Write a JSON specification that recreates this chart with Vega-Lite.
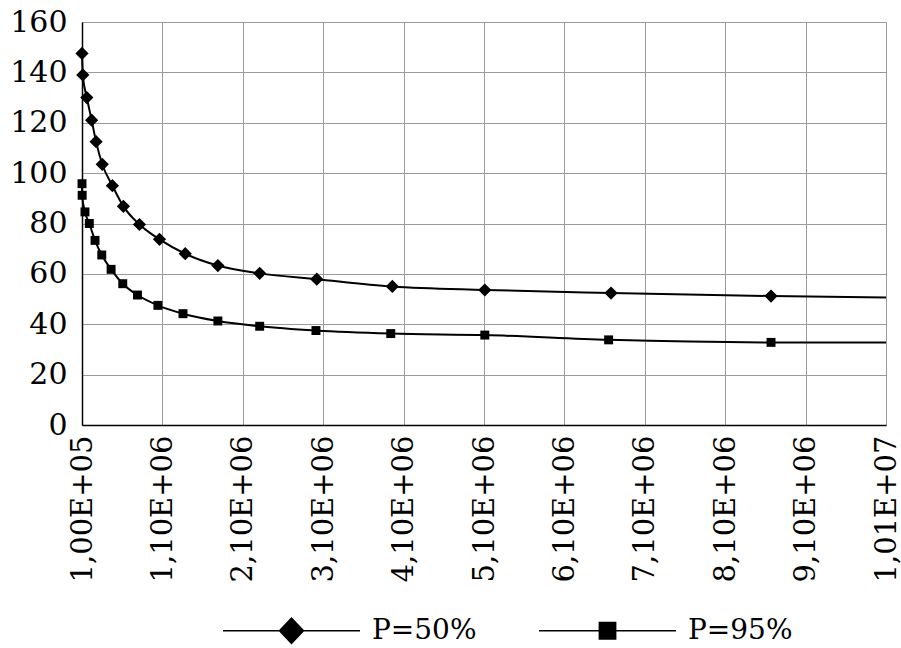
{
  "$schema": "https://vega.github.io/schema/vega-lite/v6.json",
  "width": 804,
  "height": 403,
  "autosize": {"type": "none"},
  "padding": {"left": 82, "top": 22, "right": 15, "bottom": 223},
  "background": "white",
  "config": {"view": {"stroke": null}, "font": "DejaVu Serif"},
  "data": {
    "values": [
      {"s": "P=50%", "x": 100000, "y": 147.5},
      {"s": "P=50%", "x": 110000, "y": 139},
      {"s": "P=50%", "x": 160000, "y": 130},
      {"s": "P=50%", "x": 220000, "y": 121},
      {"s": "P=50%", "x": 275000, "y": 112.5},
      {"s": "P=50%", "x": 352000, "y": 103.5},
      {"s": "P=50%", "x": 478000, "y": 95},
      {"s": "P=50%", "x": 615000, "y": 86.8},
      {"s": "P=50%", "x": 815000, "y": 79.6},
      {"s": "P=50%", "x": 1064000, "y": 73.7},
      {"s": "P=50%", "x": 1384000, "y": 68},
      {"s": "P=50%", "x": 1790000, "y": 63.3},
      {"s": "P=50%", "x": 2310000, "y": 60.2},
      {"s": "P=50%", "x": 3020000, "y": 57.9},
      {"s": "P=50%", "x": 3960000, "y": 55},
      {"s": "P=50%", "x": 5110000, "y": 53.6},
      {"s": "P=50%", "x": 6680000, "y": 52.4},
      {"s": "P=50%", "x": 8670000, "y": 51.2},
      {"s": "P=50%", "x": 10100000, "y": 50.6},
      {"s": "P=95%", "x": 100000, "y": 95.8},
      {"s": "P=95%", "x": 102000, "y": 91.2},
      {"s": "P=95%", "x": 137000, "y": 84.6},
      {"s": "P=95%", "x": 191000, "y": 80},
      {"s": "P=95%", "x": 262000, "y": 73.3},
      {"s": "P=95%", "x": 346000, "y": 67.5},
      {"s": "P=95%", "x": 462000, "y": 61.8},
      {"s": "P=95%", "x": 607000, "y": 56.1},
      {"s": "P=95%", "x": 790000, "y": 51.6},
      {"s": "P=95%", "x": 1044000, "y": 47.5},
      {"s": "P=95%", "x": 1356000, "y": 44.2},
      {"s": "P=95%", "x": 1790000, "y": 41.3},
      {"s": "P=95%", "x": 2310000, "y": 39.2},
      {"s": "P=95%", "x": 3010000, "y": 37.5},
      {"s": "P=95%", "x": 3940000, "y": 36.3},
      {"s": "P=95%", "x": 5110000, "y": 35.7},
      {"s": "P=95%", "x": 6650000, "y": 33.8},
      {"s": "P=95%", "x": 8670000, "y": 32.8},
      {"s": "P=95%", "x": 10100000, "y": 32.8}
    ]
  },
  "encoding": {
    "x": {
      "field": "x",
      "type": "quantitative",
      "scale": {"domain": [100000, 10100000], "nice": false, "zero": false},
      "axis": {
        "values": [100000, 1100000, 2100000, 3100000, 4100000, 5100000, 6100000, 7100000, 8100000, 9100000, 10100000],
        "labelExpr": "replace(replace(format(datum.value, '.2e'), '.', ','), 'e+', 'E+0')",
        "labelAngle": -90,
        "labelFont": "DejaVu Serif",
        "labelFontSize": 29,
        "labelColor": "black",
        "labelPadding": 10,
        "labelOverlap": false,
        "labelFlush": false,
        "labelBound": false,
        "ticks": false,
        "domainColor": "black",
        "domainWidth": 1.5,
        "gridColor": "#9a9a9a",
        "gridWidth": 1,
        "title": null
      }
    },
    "y": {
      "field": "y",
      "type": "quantitative",
      "scale": {"domain": [0, 160], "nice": false},
      "axis": {
        "values": [0, 20, 40, 60, 80, 100, 120, 140, 160],
        "labelFont": "DejaVu Serif",
        "labelFontSize": 30,
        "labelColor": "black",
        "labelPadding": 15,
        "labelOverlap": false,
        "labelFlush": false,
        "ticks": false,
        "domainColor": "black",
        "domainWidth": 1.5,
        "gridColor": "#9a9a9a",
        "gridWidth": 1,
        "title": null
      }
    }
  },
  "layer": [
    {
      "mark": {"type": "line", "interpolate": "monotone", "color": "black", "strokeWidth": 2},
      "encoding": {"detail": {"field": "s", "type": "nominal"}}
    },
    {
      "transform": [{"filter": "datum.x < 10000000"}],
      "mark": {"type": "point", "filled": true, "color": "black", "opacity": 1},
      "encoding": {
        "shape": {"field": "s", "type": "nominal", "scale": {"range": ["diamond", "square"]}, "legend": null},
        "size": {"field": "s", "type": "ordinal", "scale": {"range": [175, 80]}, "legend": null}
      }
    },
    {
      "transform": [{"filter": "false"}],
      "mark": {"type": "point", "filled": true, "fill": "black", "opacity": 1},
      "encoding": {
        "shape": {
          "field": "s",
          "type": "nominal",
          "scale": {
            "domain": ["P=50%", "P=95%"],
            "range": ["M-1,-0.011H1V0.011H-1ZM0,-0.2L0.19,0L0,0.2L-0.19,0Z", "M-1,-0.011H1V0.011H-1ZM-0.13,-0.13H0.13V0.13H-0.13Z"]
          },
          "legend": {
            "orient": "none",
            "legendX": 141,
            "legendY": 540,
            "direction": "horizontal",
            "title": null,
            "labelFont": "DejaVu Serif",
            "labelFontSize": 28,
            "labelColor": "black",
            "symbolSize": 18769,
            "symbolFillColor": "black",
            "symbolStrokeWidth": 0,
            "labelOffset": 12,
            "columnPadding": 62,
            "padding": 0
          }
        }
      }
    }
  ],
  "resolve": {"scale": {"shape": "independent", "size": "independent"}, "legend": {"shape": "independent"}}
}
